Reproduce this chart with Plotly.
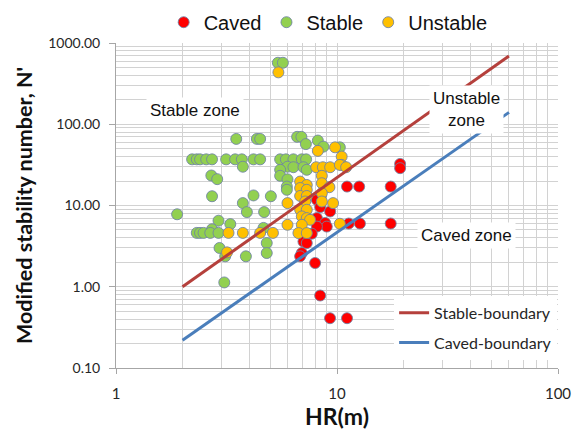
import plotly.graph_objects as go

# Field observations: hydraulic radius HR (m) vs modified stability number N'
caved_hr = [11.1, 12.6, 17.5, 19.3, 19.3, 11.3, 12.7, 17.5, 8.45, 8.11, 8.39, 9.31,
            8.11, 8.84, 8.99, 8.11, 7.05, 7.30, 7.69, 6.93, 6.81, 7.96, 8.39, 9.3, 11.1]
caved_n = [17.1, 17.1, 17.1, 32.5, 28.8, 6.0, 6.0, 6.0, 13.1, 11.7, 9.55, 8.44,
           7.0, 6.1, 5.5, 5.5, 3.6, 3.45, 4.5, 2.6, 2.37, 1.96, 0.78, 0.41, 0.41]

stable_hr = [5.40, 5.69,
             3.50, 4.34, 4.49, 6.6, 6.9,
             7.23, 8.19, 8.68, 10.3,
             2.21, 2.32, 2.40, 2.56, 2.72, 3.15, 3.46, 3.71, 4.19, 4.49, 5.53, 5.87, 6.35, 6.93, 7.25,
             3.75, 5.97, 5.53, 6.35, 7.05, 7.30,
             2.70, 2.87, 5.53, 5.97, 5.93, 5.93,
             2.72, 4.19, 5.02,
             1.89,
             3.75, 3.91, 4.68, 2.91, 3.29, 2.72, 4.65,
             2.32, 2.40, 2.49, 2.67, 2.91,
             4.81, 4.81, 2.94, 3.12, 3.87, 3.09]
stable_n = [571, 571,
            66, 66, 66, 70, 70,
            57, 63, 53, 52,
            37, 37, 37, 37, 37, 37, 37, 37, 37, 37, 37, 37, 37, 37, 37,
            30, 30, 27.5, 29.6, 29.6, 27.5,
            23.4, 21.1, 23.2, 21.0, 17.1, 15.6,
            13.0, 13.3, 13.0,
            7.8,
            10.7, 8.3, 8.3, 6.5, 5.9, 5.1, 5.3,
            4.6, 4.6, 4.6, 4.6, 4.6,
            3.45, 2.6, 3.0, 2.37, 2.37, 1.13]

unstable_hr = [5.43,
               8.19, 9.80, 10.5, 10.5,
               8.05, 8.63, 9.31, 10.3, 11.0,
               8.54, 8.54, 9.24, 6.81, 7.30,
               6.81, 7.30, 6.81, 7.30, 7.18, 8.54, 8.54, 9.6, 5.97,
               6.81, 7.30, 6.93, 7.30, 7.55,
               5.97, 6.93, 10.3,
               6.69, 7.30,
               3.23, 3.75, 4.49, 5.13,
               3.18]
unstable_n = [435,
              47, 52, 40, 31.6,
              29.6, 29.6, 29.6, 31.6, 29.6,
              23.2, 18.8, 16.8, 19.7, 17.9,
              16.4, 15.6, 13.1, 13.1, 11.2, 14.2, 11.2, 10.7, 10.7,
              8.86, 8.86, 7.33, 7.0, 6.67,
              5.79, 5.79, 5.96,
              4.58, 4.58,
              4.6, 4.6, 4.6, 4.6,
              2.65]

# Zone boundaries (straight lines on log-log axes)
boundary_hr = [2, 60]
stable_boundary_n = [1.0, 690]
caved_boundary_n = [0.22, 140]

x_ticks = [1, 10, 100]
y_ticks = [0.1, 1, 10, 100, 1000]

CALIBRI_LIKE = "Lato, 'Open Sans', sans-serif"
ARIAL_LIKE = "'Liberation Sans', Arial, sans-serif"
GRID = "#d2d2d2"
AXIS = "#a6a6a6"
OUTLINE = dict(color="rgba(110,130,165,0.85)", width=1)

fig = go.Figure()

for name, xs, ys, color in [
    ("Caved", caved_hr, caved_n, "#ff0000"),
    ("Stable", stable_hr, stable_n, "#92d050"),
    ("Unstable", unstable_hr, unstable_n, "#ffc000"),
]:
    fig.add_trace(go.Scatter(
        x=xs, y=ys, mode="markers", name=name, legend="legend",
        marker=dict(size=11, color=color, line=OUTLINE),
    ))

fig.add_trace(go.Scatter(
    x=boundary_hr, y=stable_boundary_n, mode="lines", name="Stable-boundary",
    legend="legend2", legendgroup="stable_b", line=dict(color="#b5403c", width=3),
))
fig.add_trace(go.Scatter(
    x=boundary_hr, y=caved_boundary_n, mode="lines", name="Caved-boundary",
    legend="legend2", legendgroup="caved_b", line=dict(color="#4a7ebb", width=3),
))

zone_font = dict(family=ARIAL_LIKE, size=17, color="#111")
for text, px, py in [
    ("Stable zone", 0.179, 0.791),
    ("Unstable<br>zone", 0.792, 0.794),
    ("Caved zone", 0.792, 0.407),
]:
    fig.add_annotation(text=text, xref="paper", yref="paper", x=px, y=py,
                       xanchor="center", yanchor="middle",
                       showarrow=False, font=zone_font, bgcolor="white",
                       borderpad=3)

fig.update_xaxes(
    type="log", range=[0, 2],
    tickvals=x_ticks, ticktext=[str(v) for v in x_ticks],
    ticks="outside", ticklen=5, tickcolor=AXIS,
    showline=True, linecolor=AXIS, linewidth=1,
    showgrid=True, gridcolor=GRID, gridwidth=1,
    minor=dict(dtick="D1", showgrid=True, gridcolor=GRID, gridwidth=1, ticks=""),
    tickfont=dict(family=CALIBRI_LIKE, size=15, color="#262626"),
    ticklabelstandoff=7,
    title=dict(text="<b>HR(m)</b>", font=dict(family=CALIBRI_LIKE, size=23, color="#111"),
               standoff=9),
    zeroline=False,
)
fig.update_yaxes(
    type="log", range=[-1, 3],
    tickvals=y_ticks, tickformat=".2f",
    ticks="outside", ticklen=6, tickcolor=AXIS,
    showline=True, linecolor=AXIS, linewidth=1,
    showgrid=True, gridcolor=GRID, gridwidth=1,
    minor=dict(dtick="D1", showgrid=True, gridcolor=GRID, gridwidth=1, ticks=""),
    tickfont=dict(family=CALIBRI_LIKE, size=14, color="#262626"),
    ticklabelstandoff=6,
    title=dict(text="<b>Modified stability number, N'</b>",
               font=dict(family=CALIBRI_LIKE, size=21.5, color="#111"), standoff=9),
    zeroline=False,
)

fig.update_layout(
    width=583, height=430,
    margin=dict(l=116, r=25, t=43, b=62, autoexpand=False),
    paper_bgcolor="white", plot_bgcolor="white",
    legend=dict(orientation="h", x=0.48, xanchor="center", y=1.064, yanchor="middle",
                font=dict(family=ARIAL_LIKE, size=20, color="#111"),
                bgcolor="rgba(0,0,0,0)", itemwidth=30),
    legend2=dict(orientation="v", x=0.998, xanchor="right", y=0.222, yanchor="top",
                 font=dict(family=CALIBRI_LIKE, size=16, color="#262626"),
                 bgcolor="white", itemwidth=30, tracegroupgap=6),
)

fig.write_html("out.html")
